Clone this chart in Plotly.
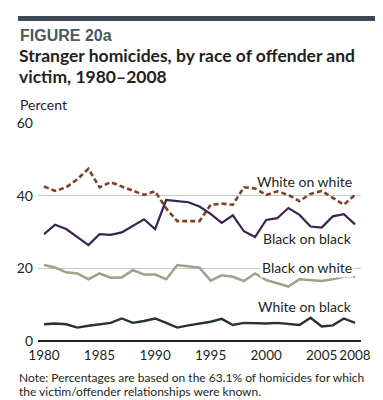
import plotly.graph_objects as go

years = list(range(1980, 2009))

white_on_white = [42.5, 41.3, 42.3, 44.5, 47.4, 42.3, 43.7, 42.5, 41.2, 40.2,
                  41.2, 36.5, 33.0, 33.0, 33.0, 37.5, 37.8, 37.5, 42.3, 42.0,
                  40.2, 41.2, 40.2, 38.5, 40.5, 41.3, 39.3, 37.5, 40.2]
black_on_black = [29.4, 32.0, 30.8, 28.6, 26.4, 29.4, 29.2, 29.9, 31.8, 33.5,
                  30.8, 38.8, 38.5, 38.2, 37.0, 35.0, 32.5, 34.6, 30.2, 28.6,
                  33.3, 33.8, 36.6, 34.7, 31.5, 31.2, 34.3, 34.9, 32.1]
black_on_white = [20.9, 20.2, 18.9, 18.6, 17.0, 18.6, 17.4, 17.5, 19.5, 18.3,
                  18.3, 17.0, 20.9, 20.5, 20.2, 16.6, 18.1, 17.7, 16.5, 18.6,
                  16.8, 15.9, 15.0, 17.0, 16.8, 16.5, 17.0, 17.7, 17.7]
white_on_black = [4.6, 4.8, 4.6, 3.7, 4.2, 4.6, 5.0, 6.2, 5.0, 5.5,
                  6.2, 5.0, 3.7, 4.3, 4.7, 5.3, 6.1, 4.4, 5.0, 4.8,
                  4.8, 5.0, 4.8, 4.4, 6.4, 4.0, 4.3, 6.2, 5.0]

series_names = ["White on white", "Black on black", "Black on white", "White on black"]
label_values = [44.0, 28.3, 20.1, 9.6]
x_ticks = [1980, 1985, 1990, 1995, 2000, 2005, 2008]
y_ticks = [0, 20, 40, 60]

FONT = "Lato, Liberation Sans, sans-serif"
TXT = "#231f20"

fig = go.Figure()
styles = [
    dict(color="#7d4220", width=2.6, dash="5px,3px"),
    dict(color="#3a2350", width=2.2),
    dict(color="#a59f8e", width=2.6),
    dict(color="#25313b", width=2.4),
]
for name, vals, st in zip(series_names,
                          [white_on_white, black_on_black, black_on_white, white_on_black],
                          styles):
    fig.add_trace(go.Scatter(x=years, y=vals, mode="lines", name=name,
                             line=st, showlegend=False))

annotations = []
for name, v in zip(series_names, label_values):
    annotations.append(dict(
        x=2007.95, y=v, xref="x", yref="y", text=name, showarrow=False,
        xanchor="right", yanchor="middle",
        font=dict(family=FONT, size=14, color=TXT),
        bgcolor="white" if name == "Black on white" else None, borderpad=1))

# layout geometry (plot area px: x 30..353, y 115..333)
def px_x(p):
    return (p - 30) / 323.0

def px_y(p):
    return (333 - p) / 218.0

annotations += [
    dict(x=px_x(10), y=px_y(27), xref="paper", yref="paper", text="<b>FIGURE 20a</b>",
         showarrow=False, xanchor="left", yanchor="middle",
         font=dict(family="Liberation Sans, Arial, sans-serif", size=16, color="#4b5763")),
    dict(x=px_x(9), y=px_y(47), xref="paper", yref="paper",
         text="<b>Stranger homicides, by race of offender and</b>",
         showarrow=False, xanchor="left", yanchor="middle",
         font=dict(family=FONT, size=17.5, color=TXT)),
    dict(x=px_x(9), y=px_y(68), xref="paper", yref="paper",
         text="<b>victim, 1980–2008</b>",
         showarrow=False, xanchor="left", yanchor="middle",
         font=dict(family=FONT, size=17.5, color=TXT)),
    dict(x=px_x(10), y=px_y(96), xref="paper", yref="paper", text="Percent",
         showarrow=False, xanchor="left", yanchor="middle",
         font=dict(family=FONT, size=14, color=TXT)),
    dict(x=px_x(9), y=px_y(369), xref="paper", yref="paper",
         text="Note: Percentages are based on the 63.1% of homicides for which",
         showarrow=False, xanchor="left", yanchor="middle",
         font=dict(family=FONT, size=12, color=TXT)),
    dict(x=px_x(9), y=px_y(383), xref="paper", yref="paper",
         text="the victim/offender relationships were known.",
         showarrow=False, xanchor="left", yanchor="middle",
         font=dict(family=FONT, size=12, color=TXT)),
]

fig.update_layout(
    width=383, height=400,
    margin=dict(l=30, r=30, t=115, b=67),
    paper_bgcolor="white", plot_bgcolor="white",
    annotations=annotations,
    shapes=[dict(type="rect", xref="paper", yref="paper",
                 x0=px_x(10), x1=px_x(368), y0=px_y(13), y1=px_y(8),
                 fillcolor="#3e4a55", line=dict(width=0), layer="above")],
    xaxis=dict(range=[1979.46, 2008.54], tickvals=x_ticks, tickangle=0, automargin=False,
               ticktext=[str(t) for t in x_ticks], showgrid=False, zeroline=False,
               showline=False, ticks="", ticklabelstandoff=4,
               tickfont=dict(family=FONT, size=13.5, color=TXT)),
    yaxis=dict(range=[0, 60], tickvals=y_ticks, showgrid=True, gridcolor="#c9c9c9",
               gridwidth=1, zeroline=True, zerolinecolor="#231f20", zerolinewidth=2,
               showline=False, ticks="", ticklabelstandoff=4, automargin=False,
               tickfont=dict(family=FONT, size=14, color=TXT)),
)

fig.write_html("out.html")
